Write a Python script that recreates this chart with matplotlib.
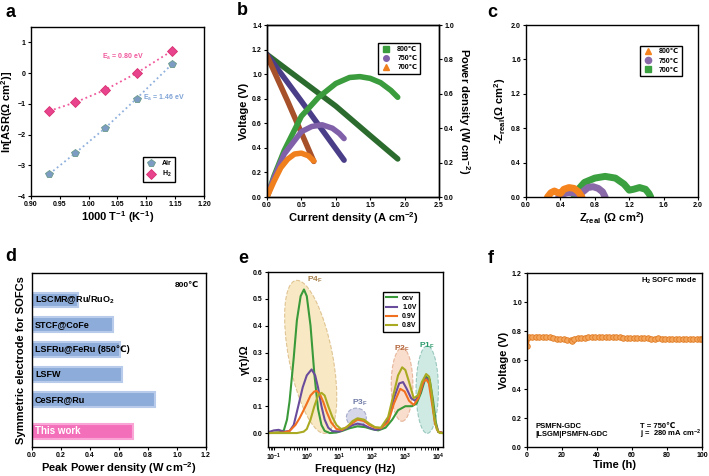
import matplotlib
matplotlib.use("Agg")
import matplotlib.pyplot as plt
from matplotlib.patches import Ellipse
from matplotlib.lines import Line2D

plt.rcParams['font.family'] = ['Liberation Sans', 'DejaVu Sans']
plt.rcParams['font.weight'] = 'bold'
plt.rcParams['axes.labelweight'] = 'bold'
plt.rcParams['mathtext.fontset'] = 'custom'
plt.rcParams['mathtext.rm'] = 'Liberation Sans:bold'
plt.rcParams['mathtext.bf'] = 'Liberation Sans:bold'
plt.rcParams['mathtext.it'] = 'Liberation Sans:bold'
plt.rcParams['mathtext.default'] = 'bf'

# ---- (a) Arrhenius ----
inv_T = [0.932, 0.977, 1.028, 1.083, 1.145]
ln_asr_air = [-3.28, -2.60, -1.80, -0.83, 0.30]
ln_asr_h2 = [-1.23, -0.95, -0.55, 0.00, 0.73]

# ---- (b) I-V-P ----
iv_temps = ['800℃', '750℃', '700℃']
v_i = [[0, 0.5, 1.0, 1.5, 1.9], [0, 0.5, 1.12], [0, 0.3, 0.68]]
v_v = [[1.16, 0.95, 0.74, 0.50, 0.31], [1.16, 0.78, 0.30], [1.15, 0.78, 0.29]]
p_i = [[0, 0.1, 0.25, 0.5, 0.75, 1.0, 1.2, 1.35, 1.5, 1.65, 1.8, 1.9],
       [0, 0.1, 0.25, 0.5, 0.65, 0.8, 0.95, 1.05, 1.12],
       [0, 0.1, 0.2, 0.3, 0.4, 0.5, 0.6, 0.68]]
p_p = [[0, 0.12, 0.27, 0.47, 0.58, 0.66, 0.695, 0.70, 0.69, 0.665, 0.62, 0.58],
       [0, 0.11, 0.25, 0.38, 0.41, 0.42, 0.40, 0.37, 0.34],
       [0, 0.09, 0.17, 0.22, 0.25, 0.255, 0.24, 0.21]]

# ---- (c) impedance ----
z_re_800 = [0.25, 0.29, 0.33, 0.37, 0.40, 0.44, 0.50, 0.56, 0.61, 0.65]
z_im_800 = [0.0, 0.05, 0.07, 0.05, 0.04, 0.09, 0.11, 0.10, 0.06, 0.0]
z_re_750 = [0.38, 0.42, 0.48, 0.55, 0.62, 0.66, 0.72, 0.78, 0.84, 0.89, 0.92]
z_im_750 = [0.0, 0.03, 0.05, 0.05, 0.03, 0.06, 0.11, 0.12, 0.10, 0.06, 0.0]
z_re_700 = [0.56, 0.60, 0.68, 0.80, 0.92, 1.04, 1.14, 1.20, 1.25, 1.32, 1.39, 1.43, 1.45]
z_im_700 = [0.0, 0.08, 0.17, 0.22, 0.24, 0.22, 0.15, 0.08, 0.09, 0.11, 0.09, 0.04, 0.0]

# ---- (d) comparison ----
electrodes = ['LSCMR@Ru/RuO$_2$', 'STCF@CoFe', 'LSFRu@FeRu (850℃)', 'LSFW', 'CeSFR@Ru', 'This work']
ppd = [0.32, 0.56, 0.61, 0.62, 0.85, 0.70]

# ---- (e) DRT ----
ocv_f = [0.066, 0.15, 0.2, 0.25, 0.3, 0.4, 0.5, 0.65, 0.82, 1.0, 1.3, 1.7, 2.2, 2.8, 3.5, 5, 8, 12, 20, 35,
         60, 100, 150, 250, 400, 600, 1000, 1600, 2200, 3000, 4200, 5500, 7000, 8500, 10000, 14000]
ocv_g = [0, 0.003, 0.01, 0.05, 0.12, 0.28, 0.42, 0.51, 0.535, 0.51, 0.4, 0.22, 0.09, 0.03, 0.008, 0.0, 0.002,
         0.008, 0.018, 0.025, 0.022, 0.014, 0.01, 0.02, 0.05, 0.085, 0.1, 0.1, 0.11, 0.15, 0.21, 0.2, 0.12,
         0.04, 0.005, 0.0]
v10_f = [0.066, 0.1, 0.14, 0.2, 0.3, 0.4, 0.55, 0.75, 1.0, 1.4, 1.8, 2.2, 2.8, 3.5, 4.5, 6, 10, 15, 25, 35,
         55, 80, 120, 180, 300, 450, 650, 850, 1100, 1500, 2000, 2800, 4000, 5200, 6500, 8000, 10000, 14000]
v10_g = [0.003, 0.01, 0.012, 0.005, 0.008, 0.03, 0.1, 0.17, 0.215, 0.237, 0.215, 0.17, 0.1, 0.05, 0.02,
         0.007, 0.006, 0.015, 0.03, 0.035, 0.03, 0.02, 0.012, 0.015, 0.05, 0.13, 0.185, 0.19, 0.165, 0.13,
         0.12, 0.15, 0.205, 0.2, 0.13, 0.04, 0.005, 0.0]
v09_f = [0.066, 0.2, 0.3, 0.45, 0.6, 0.8, 1.0, 1.3, 1.7, 2.0, 2.5, 3.2, 4.0, 5.5, 8, 12, 20, 35, 55, 80,
         120, 180, 300, 450, 700, 950, 1300, 1800, 2500, 3500, 4300, 5200, 6500, 8000, 10000, 14000]
v09_g = [0, 0.002, 0.008, 0.03, 0.055, 0.085, 0.11, 0.14, 0.155, 0.157, 0.145, 0.115, 0.08, 0.04, 0.015,
         0.012, 0.03, 0.05, 0.045, 0.03, 0.02, 0.018, 0.04, 0.11, 0.165, 0.155, 0.12, 0.105, 0.13, 0.19,
         0.2, 0.185, 0.11, 0.035, 0.005, 0.0]
v08_f = [0.066, 0.5, 0.8, 1.0, 1.3, 1.7, 2.2, 2.8, 3.5, 4.5, 6, 8, 11, 16, 25, 35, 55, 80, 120, 180, 300,
         450, 600, 800, 1000, 1300, 1800, 2400, 3200, 4300, 5300, 6300, 7600, 9000, 11000, 14000]
v08_g = [0, 0.0, 0.005, 0.015, 0.05, 0.1, 0.14, 0.15, 0.14, 0.1, 0.06, 0.03, 0.015, 0.02, 0.045, 0.055,
         0.05, 0.035, 0.022, 0.02, 0.06, 0.15, 0.215, 0.245, 0.235, 0.19, 0.13, 0.14, 0.19, 0.22, 0.21,
         0.15, 0.06, 0.015, 0.0, 0.0]

# ---- (f) stability ----
time_h = [0, 1, 3, 5, 7, 9, 11, 13, 15, 17, 19, 21, 23, 25, 26, 27, 29, 31, 33, 35, 37, 39, 41, 43, 45, 47,
          49, 51, 53, 55, 57, 59, 61, 63, 65, 67, 69, 71, 73, 75, 77, 79, 81, 83, 85, 87, 89, 91, 93, 95,
          97, 99, 100]
volt = [0.70, 0.758, 0.760, 0.762, 0.762, 0.761, 0.760, 0.757, 0.752, 0.748, 0.745, 0.742, 0.738, 0.735,
        0.733, 0.748, 0.752, 0.754, 0.755, 0.756, 0.757, 0.757, 0.757, 0.758, 0.758, 0.757, 0.757, 0.757,
        0.756, 0.755, 0.753, 0.752, 0.751, 0.751, 0.750, 0.750, 0.749, 0.748, 0.748, 0.749, 0.748, 0.748,
        0.747, 0.747, 0.746, 0.746, 0.746, 0.745, 0.745, 0.745, 0.745, 0.745, 0.745]

TS = 5
LS = 8


def style(ax):
    for s in ax.spines.values():
        s.set_linewidth(1.0)
    ax.tick_params(labelsize=TS, length=2.5, width=0.8, pad=1.2)


def legend(ax, handles, labels, anchor):
    lg = ax.legend(handles, labels, loc='upper left', bbox_to_anchor=anchor, fontsize=TS,
                   fancybox=False, edgecolor='black', framealpha=1, handlelength=1.5,
                   borderpad=0.4, labelspacing=0.3, handletextpad=0.8)
    lg.get_frame().set_linewidth(1.0)
    return lg


fig = plt.figure(figsize=(7.09, 4.76), dpi=100)

# (a)
ax = fig.add_axes([0.0437, 0.5882, 0.244, 0.355])
style(ax)
ax.plot(inv_T, ln_asr_air, ':', color='#8fb0dd', lw=1.3)
ax.plot(inv_T, ln_asr_h2, ':', color='#f0589c', lw=1.3)
h1, = ax.plot(inv_T, ln_asr_air, 'p', ms=6, mfc='#7d9cc4', mec='#6a9a8a', mew=0.6, ls='none')
h2, = ax.plot(inv_T, ln_asr_h2, 'D', ms=5, mfc='#e8448e', mec='#d8306f', mew=0.6, ls='none')
ax.text(1.023, 0.53, 'E$_a$ = 0.80 eV', color='#f0589c', fontsize=TS, va='center')
ax.text(1.094, -0.82, 'E$_a$ = 1.46 eV', color='#7ea2d6', fontsize=TS, va='center')
ax.set_xlim(0.9, 1.2)
ax.set_ylim(-4, 1.5)
ax.set_xticks([0.90, 0.95, 1.00, 1.05, 1.10, 1.15, 1.20])
ax.set_xticklabels(['0.90', '0.95', '1.00', '1.05', '1.10', '1.15', '1.20'])
ax.set_yticks([-4, -3, -2, -1, 0, 1])
ax.set_xlabel('1000 T$^{-1}$ (K$^{-1}$)', fontsize=LS, labelpad=1)
ax.set_ylabel('ln[ASR(Ω cm$^2$)]', fontsize=LS, labelpad=2)
legend(ax, [h1, h2], ['Air', 'H$_2$'], (0.63, 0.25))

# (b)
ax = fig.add_axes([0.3766, 0.5861, 0.2426, 0.3613])
style(ax)
ax2 = ax.twinx()
style(ax2)
vcol = ['#2c6b2e', '#4b3e88', '#a6512a']
pcol = ['#3a9c3c', '#8160aa', '#f07f1e']
for k in range(3):
    ax.plot(v_i[k], v_v[k], color=vcol[k], lw=4, solid_capstyle='round')
for k in range(3):
    ax2.plot(p_i[k], p_p[k], color=pcol[k], lw=4, solid_capstyle='round')
ax.set_xlim(0, 2.5)
ax.set_ylim(0, 1.4)
ax2.set_ylim(0, 1.0)
ax.set_xticks([0, 0.5, 1.0, 1.5, 2.0, 2.5])
ax.set_yticks([0, 0.2, 0.4, 0.6, 0.8, 1.0, 1.2, 1.4])
ax2.set_yticks([0, 0.2, 0.4, 0.6, 0.8, 1.0])
ax.set_xlabel('Current density (A cm$^{-2}$)', fontsize=LS, labelpad=1)
ax.set_ylabel('Voltage (V)', fontsize=LS, labelpad=2)
ax2.set_ylabel('Power density (W cm$^{-2}$)', fontsize=LS, rotation=270, labelpad=13)
hb = [Line2D([], [], marker=m, color=c, ls='none', ms=4) for m, c in zip(['s', 'o', '^'], pcol)]
legend(ax2, hb, iv_temps, (0.628, 0.913))

# (c)
ax = fig.add_axes([0.7419, 0.5861, 0.2426, 0.3613])
style(ax)
ccol = {'800': '#f5841f', '750': '#8a69a8', '700': '#3aa040'}
ax.plot(z_re_700, z_im_700, color=ccol['700'], lw=5, solid_capstyle='round')
ax.plot(z_re_750, z_im_750, color=ccol['750'], lw=5, solid_capstyle='round')
ax.plot(z_re_800, z_im_800, color=ccol['800'], lw=5, solid_capstyle='round')
ax.set_xlim(0, 2.0)
ax.set_ylim(0, 2.0)
ax.set_xticks([0, 0.4, 0.8, 1.2, 1.6, 2.0])
ax.set_yticks([0, 0.4, 0.8, 1.2, 1.6, 2.0])
ax.set_xlabel('Z$_{real}$ (Ω cm$^2$)', fontsize=LS, labelpad=1)
ax.set_ylabel('-Z$_{real}$(Ω cm$^2$)', fontsize=LS, labelpad=2)
hc = [Line2D([], [], marker=m, color=c, ls='none', ms=4.5)
      for m, c in zip(['^', 'o', 's'], [ccol['800'], ccol['750'], ccol['700']])]
legend(ax, hc, ['800℃', '750℃', '700℃'], (0.645, 0.90))

# (d)
ax = fig.add_axes([0.0451, 0.0609, 0.2454, 0.3655])
style(ax)
ypos = [5.25, 4.25, 3.25, 2.25, 1.25, 0]
colors = ['#8eacd9'] * 5 + ['#f46fba']
edges = ['#b8cbea'] * 5 + ['#f9a6d6']
ax.barh(ypos, ppd, height=0.6, color=colors, edgecolor=edges, linewidth=1.5)
for y, name in zip(ypos, electrodes):
    c = 'white' if name == 'This work' else 'black'
    fs = 7 if name == 'This work' else 6.5
    ax.text(0.02, y, name, color=c, fontsize=fs, va='center', ha='left')
ax.text(0.96, 0.93, '800℃', transform=ax.transAxes, fontsize=6, ha='right', va='center')
ax.set_xlim(0, 1.2)
ax.set_ylim(-0.64, 6.33)
ax.set_xticks([0, 0.2, 0.4, 0.6, 0.8, 1.0, 1.2])
ax.set_yticks([])
ax.set_xlabel('Peak Power density (W cm$^{-2}$)', fontsize=LS, labelpad=0.5)
ax.set_ylabel('Symmetric electrode for SOFCs', fontsize=LS, labelpad=4)

# (e)
ax = fig.add_axes([0.378, 0.0609, 0.2468, 0.3676])
style(ax)
ells = [((0.244, 0.515), 0.25, 0.89, 11, '#f6e2b0', '#d7b47a'),
        ((0.505, 0.170), 0.114, 0.105, 0, '#c9cce2', '#8f96bd'),
        ((0.766, 0.357), 0.124, 0.42, 0, '#f9d3bd', '#e0a383'),
        ((0.910, 0.328), 0.128, 0.50, 0, '#bfe3da', '#7fb9ae')]
for cen, w, h, ang, fc, ec in ells:
    ax.add_patch(Ellipse(cen, w, h, angle=ang, transform=ax.transAxes, facecolor=fc, edgecolor=ec,
                         ls='--', lw=0.8, alpha=0.75, zorder=0))
ax.text(0.267, 0.954, 'P4$_F$', transform=ax.transAxes, color='#a8804a', fontsize=6, ha='center', va='center')
ax.text(0.524, 0.252, 'P3$_F$', transform=ax.transAxes, color='#6f7aa6', fontsize=6, ha='center', va='center')
ax.text(0.762, 0.563, 'P2$_F$', transform=ax.transAxes, color='#b5673f', fontsize=6, ha='center', va='center')
ax.text(0.905, 0.58, 'P1$_F$', transform=ax.transAxes, color='#2a9a6a', fontsize=6, ha='center', va='center')
l1, = ax.plot(ocv_f, ocv_g, color='#3a9a3a', lw=1.5)
l2, = ax.plot(v10_f, v10_g, color='#6a4c9c', lw=1.5)
l3, = ax.plot(v09_f, v09_g, color='#f07020', lw=1.5)
l4, = ax.plot(v08_f, v08_g, color='#a9aa22', lw=1.5)
ax.set_xscale('log')
ax.set_xlim(0.066, 14000)
ax.set_ylim(-0.052, 0.6)
ax.set_yticks([0, 0.1, 0.2, 0.3, 0.4, 0.5, 0.6])
ax.set_xlabel('Frequency (Hz)', fontsize=LS, labelpad=0.5)
ax.set_ylabel('γ(τ)/Ω', fontsize=LS, labelpad=2)
legend(ax, [l1, l2, l3, l4], ['ocv', '1.0V', '0.9V', '0.8V'], (0.64, 0.905))

# (f)
ax = fig.add_axes([0.7433, 0.0609, 0.2468, 0.3655])
style(ax)
ax.plot(time_h, volt, '-o', color='#e8822a', lw=2.5, ms=4, mfc='#f4a55c', mec='#e07a22', mew=0.6)
ax.set_xlim(0, 100)
ax.set_ylim(0, 1.2)
ax.set_xticks([0, 20, 40, 60, 80, 100])
ax.set_yticks([0, 0.2, 0.4, 0.6, 0.8, 1.0, 1.2])
ax.set_xlabel('Time (h)', fontsize=LS, labelpad=0.5)
ax.set_ylabel('Voltage (V)', fontsize=LS, labelpad=2)
ax.text(0.97, 0.955, 'H$_2$ SOFC mode', transform=ax.transAxes, fontsize=5.5, ha='right', va='center')
ax.text(0.05, 0.12, 'PSMFN-GDC', transform=ax.transAxes, fontsize=5.5, va='center')
ax.text(0.05, 0.07, '|LSGM|PSMFN-GDC', transform=ax.transAxes, fontsize=5.5, va='center')
ax.text(0.646, 0.12, 'T = 750℃', transform=ax.transAxes, fontsize=5.5, va='center')
ax.text(0.646, 0.07, 'j =  280 mA cm$^{-2}$', transform=ax.transAxes, fontsize=5.5, va='center')

# panel letters
for lab, x, y in [('a', 5, 17), ('b', 237, 15), ('c', 487, 17), ('d', 5, 261), ('e', 238, 263), ('f', 488, 263)]:
    fig.text(x / 709, 1 - y / 476, lab, fontsize=13, fontweight='bold', va='baseline')

fig.savefig('out.png', dpi=100)
